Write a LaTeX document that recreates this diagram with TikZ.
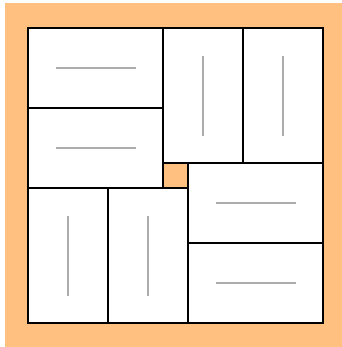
\documentclass[tikz,border=0pt]{standalone}
\usepackage{xcolor}
\usepackage{tikz}

\definecolor{parquetbg}{RGB}{255,192,128}

\begin{document}
\begin{tikzpicture}[
      x=5bp, y=-5bp,
      tile/.style={draw=black, line width=1.6bp, fill=white},
      grain/.style={draw=black!32, line width=1.5bp},
      hole/.style={draw=black, line width=1.6bp, fill=parquetbg}
    ]
    \useasboundingbox (-5.6,-5.6) rectangle (62.8,63.8);
    \fill[parquetbg] (-4.6,-5) rectangle (62.8,63.8);

    % lying planks
    \foreach \x/\y in {0/0, 0/16, 32/27, 32/43} {
      \draw[tile] (\x,\y) rectangle ++(27,16);
      \draw[grain] (\x+5.5,\y+8) -- ++(16,0);
    }
    % standing planks
    \foreach \x/\y in {27/0, 43/0, 0/32, 16/32} {
      \draw[tile] (\x,\y) rectangle ++(16,27);
      \draw[grain] (\x+8,\y+5.5) -- ++(0,16);
    }
    \draw[hole] (27,27) rectangle ++(5,5);
  \end{tikzpicture}
\end{document}
